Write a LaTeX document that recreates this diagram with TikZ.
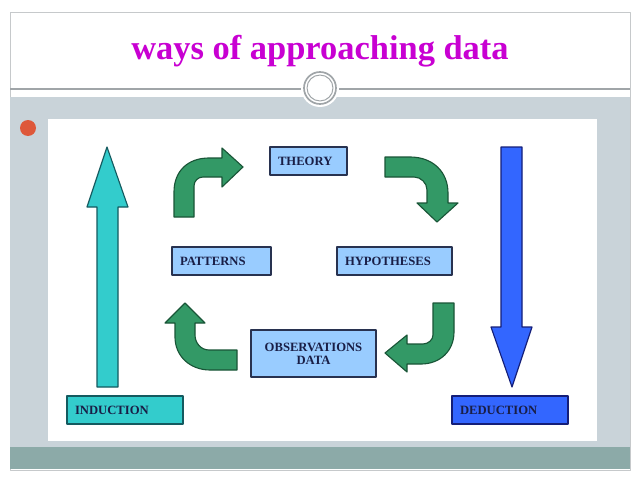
\documentclass[tikz,border=0pt]{standalone}
\usepackage{fontspec}
\setmainfont{Liberation Serif}
\usetikzlibrary{positioning}
\definecolor{titlemag}{RGB}{200,0,210}
\definecolor{boxblue}{RGB}{153,204,255}
\definecolor{boxline}{RGB}{40,50,80}
\definecolor{txtnavy}{RGB}{25,30,70}
\definecolor{turn}{RGB}{51,153,102}
\definecolor{turnline}{RGB}{25,85,55}
\definecolor{indcyan}{RGB}{51,204,204}
\definecolor{indline}{RGB}{20,90,95}
\definecolor{dedblue}{RGB}{51,102,255}
\definecolor{dedline}{RGB}{20,30,120}
\definecolor{band}{RGB}{201,211,217}
\definecolor{foot}{RGB}{140,170,168}
\definecolor{rule}{RGB}{160,165,168}
\definecolor{dot}{RGB}{222,88,58}
\newcommand{\pxu}{0.025cm}

\begin{document}
\begin{tikzpicture}[x=0.025cm, y=-0.025cm, font=\bfseries\fontsize{9}{9.2}\selectfont, line join=round]
\tikzset{box/.style={draw=boxline, fill=boxblue, text=txtnavy, line width=0.8pt, inner xsep=8*\pxu, inner ysep=0pt, minimum height=28*\pxu, align=left}, turnarrow/.style={fill=turn, draw=turnline, line width=0.8pt}, bigarrow/.style={line width=0.8pt}}
\useasboundingbox (0,0) rectangle (640,480);
% slide frame
\fill[white] (0,0) rectangle (640,480);
\draw[rule!60, fill=white] (10,12) rectangle (630,470);
\fill[band] (10,97) rectangle (630,447);
\fill[foot] (10,447) rectangle (630,469);
\draw[rule, line width=0.8pt] (10,89) -- (630,89);
\fill[white] (320,88) circle[radius=19*\pxu];
\draw[rule, line width=1.2pt] (320,88) circle[radius=16*\pxu];
\draw[rule, line width=0.7pt] (320,88) circle[radius=13*\pxu];
\fill[white] (48,119) rectangle (597,441);
\fill[dot] (28,128) circle[radius=8*\pxu];
\node[font=\bfseries\fontsize{24.5}{28}\selectfont, text=titlemag, anchor=base] (title) at (320,59) {ways of approaching data};
% boxes
\node[box, text width=61*\pxu] (theory) at (308.5,161) {THEORY};
\node[box, text width=83*\pxu] (patterns) at (221.5,261) {PATTERNS};
\node[box, text width=99*\pxu] (hypo) at (394.5,261) {HYPOTHESES};
\node[box, text width=109*\pxu, minimum height=47*\pxu, align=center] (obs) at (313.5,353.5) {OBSERVATIONS\\DATA};
\node[box, fill=indcyan, draw=indline, text width=100*\pxu] (induct) at (125,410) {INDUCTION};
\node[box, fill=dedblue, draw=dedline, text width=100*\pxu] (deduct) at (510,410) {DEDUCTION};
% big arrows
\draw[bigarrow, fill=indcyan, draw=indline] (97,387) -- (97,207) -- (87,207) -- (107,147) -- (128,207) -- (118,207) -- (118,387) -- cycle;
\draw[bigarrow, fill=dedblue, draw=dedline] (501,147) -- (522,147) -- (522,327) -- (532,327) -- (512,387) -- (491,327) -- (501,327) -- cycle;
% cycle arrows
\draw[turnarrow] (174,217) -- (174,192) .. controls (174,171) and (188,158) .. (209,158) -- (222,158) -- (222,148) -- (243,167) -- (222,187) -- (222,177) -- (203,177) .. controls (198,177) and (194,181) .. (194,186) -- (194,217) -- cycle;
\draw[turnarrow] (385,157) -- (410,157) .. controls (433,157) and (448,172) .. (448,193) -- (448,203) -- (458,203) -- (437,222) -- (417,203) -- (427,203) -- (427,190) .. controls (427,183) and (421,177) .. (414,177) -- (385,177) -- cycle;
\draw[turnarrow] (433,303) -- (454,303) -- (454,332) .. controls (454,351) and (440,364) .. (421,364) -- (407,364) -- (407,372) -- (385,353) -- (407,335) -- (407,344) -- (423,344) .. controls (428,344) and (433,340) .. (433,335) -- cycle;
\draw[turnarrow] (237,350) -- (237,370) -- (210,370) .. controls (190,370) and (175,356) .. (175,337) -- (175,323) -- (165,323) -- (185,303) -- (205,323) -- (195,323) -- (195,335) .. controls (195,343) and (201,350) .. (209,350) -- cycle;
\end{tikzpicture}
\end{document}
